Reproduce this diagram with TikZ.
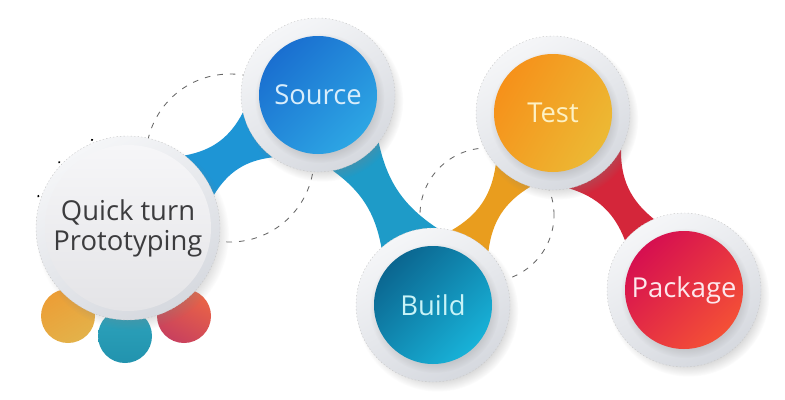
\documentclass[tikz,border=0pt]{standalone}
\usepackage{fontspec}
\setmainfont{Open Sans}
\usetikzlibrary{shadows, backgrounds}

\definecolor{ringhi}{HTML}{F5F6F8}
\definecolor{ringlo}{HTML}{D6D9DF}
\definecolor{quickhi}{HTML}{F6F6F8}
\definecolor{quicklo}{HTML}{E4E4E7}
\definecolor{quicktxt}{HTML}{3C3C3E}
\definecolor{srctop}{HTML}{1A6FD0}
\definecolor{srcbot}{HTML}{2DA6E4}
\definecolor{srctxt}{HTML}{D8EDFB}
\definecolor{bldtop}{HTML}{0B6690}
\definecolor{bldbot}{HTML}{18B2D8}
\definecolor{bldtxt}{HTML}{C8F3F7}
\definecolor{tsttop}{HTML}{F6911A}
\definecolor{tstbot}{HTML}{ECB934}
\definecolor{tsttxt}{HTML}{FDF1C4}
\definecolor{pkgtop}{HTML}{D60F50}
\definecolor{pkgbot}{HTML}{F45036}
\definecolor{pkgtxt}{HTML}{FDE7EC}
\definecolor{qsband}{HTML}{1E95D5}
\definecolor{sbband}{HTML}{1E9BC8}
\definecolor{btband}{HTML}{E99D1E}
\definecolor{tpband}{HTML}{D4263A}
\definecolor{dotltop}{HTML}{EC9E36}
\definecolor{dotlbot}{HTML}{E3B24A}
\definecolor{dotmtop}{HTML}{2DA3BC}
\definecolor{dotmbot}{HTML}{2293AE}
\definecolor{dotrtop}{HTML}{EA6446}
\definecolor{dotrbot}{HTML}{C8405E}

\begin{document}
\begin{tikzpicture}[
	ring/.style = {circle, minimum size = 3.85cm, inner sep = 0pt, outer sep = 0pt,
		top color = ringhi, bottom color = ringlo, shading angle = 30,
		draw = black!22, line width = 0.3pt, dash pattern = on 1pt off 1.5pt,
		circular drop shadow = {shadow xshift = 3pt, shadow yshift = -4pt, shadow scale = 1.05, opacity = 0.3}},
	core/.style = {circle, minimum size = 2.95cm, inner sep = 0pt, outer sep = 0pt,
		font = \fontsize{19.5}{21.5}\selectfont,
		circular drop shadow = {shadow xshift = 1pt, shadow yshift = -2pt, opacity = 0.25}},
	hoop/.style = {draw = black!60, line width = 0.6pt, dash pattern = on 4pt off 5pt},
	bead/.style = {circle, minimum size = 1.35cm, inner sep = 0pt}
]

	\useasboundingbox (0, 0) rectangle (19.625, 9.975);

	\node [ring, minimum size = 4.6cm] (quick) at (3.2, 4.275) {};
	\node [circle, minimum size = 4.15cm, inner sep = 0pt, top color = quickhi, bottom color = quicklo,
		text = quicktxt, align = center, font = \fontsize{19.5}{21.5}\selectfont] (quickc) at (quick) {Quick turn\\Prototyping};

	\node [ring] (src) at (7.95, 7.6) {};
	\node [core, top color = srctop, bottom color = srcbot, shading angle = 45, text = srctxt] (srcc) at (src) {Source};

	\node [ring] (bld) at (10.825, 2.35) {};
	\node [core, top color = bldtop, bottom color = bldbot, shading angle = 45, text = bldtxt] (bldc) at (bld) {Build};

	\node [ring] (tst) at (13.825, 7.15) {};
	\node [core, top color = tsttop, bottom color = tstbot, shading angle = 60, text = tsttxt] (tstc) at (tst) {Test};

	\node [ring] (pkg) at (17.1, 2.725) {};
	\node [core, top color = pkgtop, bottom color = pkgbot, shading angle = 45, text = pkgtxt] (pkgc) at (pkg) {Package};

	\coordinate (qsmid) at (5.75, 6.025);
	\coordinate (btmid) at (12.175, 4.6);

	\begin{scope}[on background layer]

		\draw [hoop] (qsmid) circle (2.1);
		\draw [hoop] (btmid) circle (1.675);

		\fill [qsband] (quick.52) to [bend right = 26] (src.193) -- (src.234) to [bend right = 26] (quick.21) -- cycle;
		\fill [sbband] (src.281) to [bend left = 22] (bld.132) -- (bld.87) to [bend left = 22] (src.322) -- cycle;
		\fill [btband] (bld.76) to [bend right = 26] (tst.222) -- (tst.253) to [bend right = 26] (bld.44) -- cycle;
		\fill [tpband] (tst.282) to [bend left = 26] (pkg.140) -- (pkg.113) to [bend left = 26] (tst.332) -- cycle;

		\node [bead, top color = dotltop, bottom color = dotlbot, shading angle = 30] (beadl) at (1.7, 2.075) {};
		\node [bead, top color = dotmtop, bottom color = dotmbot] (beadm) at (3.125, 1.575) {};
		\node [bead, top color = dotrtop, bottom color = dotrbot, shading angle = -30] (beadr) at (4.6, 2.075) {};

	\end{scope}

	\draw [line width = 1.3pt, line cap = round, dash pattern = on 0.5pt off 28pt] (quick) ++(112 : 2.38) arc (112 : 162 : 2.38);

\end{tikzpicture}
\end{document}
